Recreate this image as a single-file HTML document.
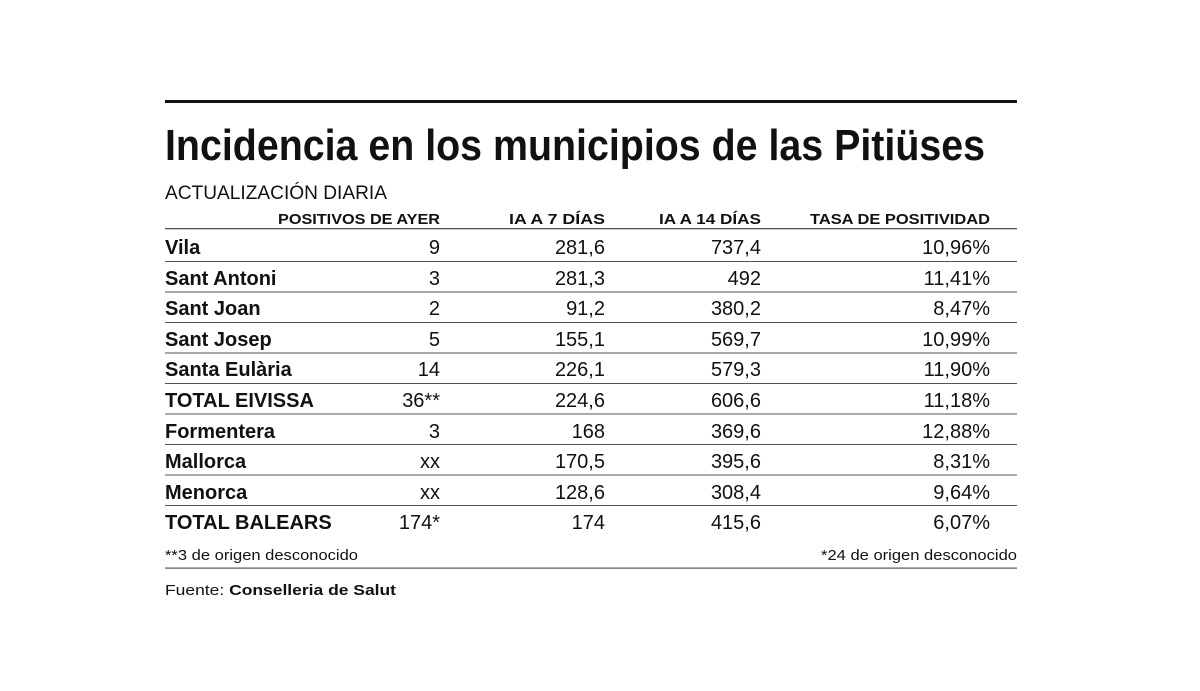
<!DOCTYPE html>
<html><head><meta charset="utf-8"><style>
html,body{margin:0;padding:0;background:#fff;}
svg{display:block;}
text{font-family:"Liberation Sans",sans-serif;fill:#111;}
.h{font-weight:bold;font-size:15px;}
.l{font-weight:bold;font-size:20px;}
.n{font-size:20px;text-anchor:end;}
.s{font-size:15px;}
</style></head><body>
<svg width="1200" height="691" viewBox="0 0 1200 691">
<rect x="165" y="100" width="852" height="3" fill="#111"/>
<text x="165" y="160" font-size="44" font-weight="bold" textLength="820" lengthAdjust="spacingAndGlyphs">Incidencia en los municipios de las Pitiüses</text>
<text x="165" y="199" font-size="19" textLength="222" lengthAdjust="spacingAndGlyphs">ACTUALIZACIÓN DIARIA</text>
<g class="h">
<text x="440" y="224" text-anchor="end" textLength="162" lengthAdjust="spacingAndGlyphs">POSITIVOS DE AYER</text>
<text x="605" y="224" text-anchor="end" textLength="96" lengthAdjust="spacingAndGlyphs">IA A 7 DÍAS</text>
<text x="761" y="224" text-anchor="end" textLength="102" lengthAdjust="spacingAndGlyphs">IA A 14 DÍAS</text>
<text x="990" y="224" text-anchor="end" textLength="180" lengthAdjust="spacingAndGlyphs">TASA DE POSITIVIDAD</text>
</g>
<g fill="#555">
<rect x="165" y="228" width="852" height="1.3"/>
<rect x="165" y="261" width="852" height="1"/>
<rect x="165" y="291.5" width="852" height="1"/>
<rect x="165" y="322" width="852" height="1"/>
<rect x="165" y="352.5" width="852" height="1"/>
<rect x="165" y="383" width="852" height="1"/>
<rect x="165" y="413.5" width="852" height="1"/>
<rect x="165" y="444" width="852" height="1"/>
<rect x="165" y="474.5" width="852" height="1"/>
<rect x="165" y="505" width="852" height="1"/>
<rect x="165" y="567.5" width="852" height="1.2"/>
</g>
<g>
<text class="l" x="165" y="254">Vila</text>
<text class="n" x="440" y="254">9</text><text class="n" x="605" y="254">281,6</text><text class="n" x="761" y="254">737,4</text><text class="n" x="990" y="254">10,96%</text>
<text class="l" x="165" y="285">Sant Antoni</text>
<text class="n" x="440" y="285">3</text><text class="n" x="605" y="285">281,3</text><text class="n" x="761" y="285">492</text><text class="n" x="990" y="285">11,41%</text>
<text class="l" x="165" y="315">Sant Joan</text>
<text class="n" x="440" y="315">2</text><text class="n" x="605" y="315">91,2</text><text class="n" x="761" y="315">380,2</text><text class="n" x="990" y="315">8,47%</text>
<text class="l" x="165" y="346">Sant Josep</text>
<text class="n" x="440" y="346">5</text><text class="n" x="605" y="346">155,1</text><text class="n" x="761" y="346">569,7</text><text class="n" x="990" y="346">10,99%</text>
<text class="l" x="165" y="376">Santa Eulària</text>
<text class="n" x="440" y="376">14</text><text class="n" x="605" y="376">226,1</text><text class="n" x="761" y="376">579,3</text><text class="n" x="990" y="376">11,90%</text>
<text class="l" x="165" y="407">TOTAL EIVISSA</text>
<text class="n" x="440" y="407">36**</text><text class="n" x="605" y="407">224,6</text><text class="n" x="761" y="407">606,6</text><text class="n" x="990" y="407">11,18%</text>
<text class="l" x="165" y="438">Formentera</text>
<text class="n" x="440" y="438">3</text><text class="n" x="605" y="438">168</text><text class="n" x="761" y="438">369,6</text><text class="n" x="990" y="438">12,88%</text>
<text class="l" x="165" y="468">Mallorca</text>
<text class="n" x="440" y="468">xx</text><text class="n" x="605" y="468">170,5</text><text class="n" x="761" y="468">395,6</text><text class="n" x="990" y="468">8,31%</text>
<text class="l" x="165" y="499">Menorca</text>
<text class="n" x="440" y="499">xx</text><text class="n" x="605" y="499">128,6</text><text class="n" x="761" y="499">308,4</text><text class="n" x="990" y="499">9,64%</text>
<text class="l" x="165" y="529">TOTAL BALEARS</text>
<text class="n" x="440" y="529">174*</text><text class="n" x="605" y="529">174</text><text class="n" x="761" y="529">415,6</text><text class="n" x="990" y="529">6,07%</text>
</g>
<text class="s" x="165" y="560" textLength="193" lengthAdjust="spacingAndGlyphs">**3 de origen desconocido</text>
<text class="s" x="1017" y="560" text-anchor="end" textLength="196" lengthAdjust="spacingAndGlyphs">*24 de origen desconocido</text>
<text class="s" x="165" y="595" font-size="16" textLength="231" lengthAdjust="spacingAndGlyphs">Fuente: <tspan font-weight="bold">Conselleria de Salut</tspan></text>
</svg>
</body></html>
